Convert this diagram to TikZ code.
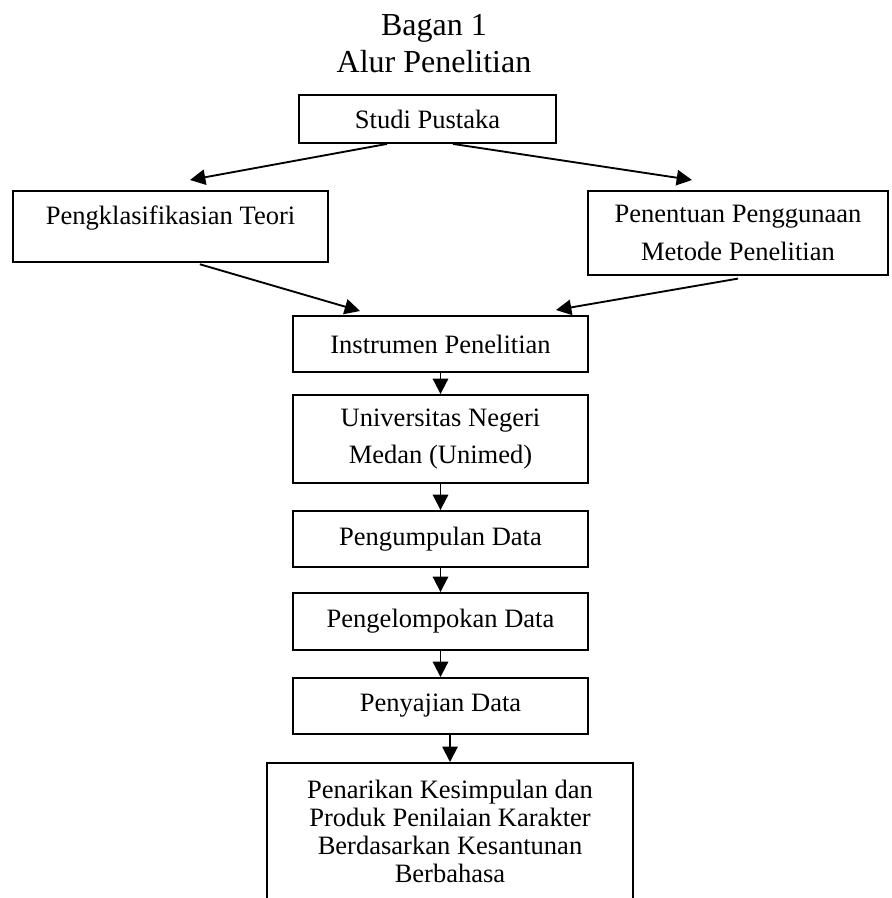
\documentclass[tikz,border=0pt]{standalone}
\usepackage{fontspec}
\setmainfont{Liberation Serif}
\usetikzlibrary{arrows.meta}

\begin{document}
\begin{tikzpicture}
[x=0.75pt,y=-0.75pt,
 kotak/.style={draw,line width=1.4pt,inner sep=0pt,align=center,
   font=\fontsize{19.9}{28}\selectfont},
 panah/.style={line width=1.4pt,-{Triangle[length=11.5pt,width=11.5pt]}}]
\clip (0,0) rectangle (891,898);
\node[align=center,inner sep=0pt,font=\fontsize{24}{27.75}\selectfont] (judul) at (434,44) {Bagan 1\\Alur Penelitian};
\node[kotak,minimum width=192.75pt,minimum height=36pt] (studi) at (427.5,119) {Studi Pustaka};
\node[kotak,minimum width=236.25pt,minimum height=53.25pt,text height=14pt,text depth=16.5pt] (teori) at (170.5,226.5) {Pengklasifikasian Teori};
\node[kotak,minimum width=225pt,minimum height=63pt] (metode) at (738,233) {Penentuan Penggunaan\\Metode Penelitian};
\node[kotak,minimum width=221.25pt,minimum height=42pt] (instrumen) at (440.5,344) {Instrumen Penelitian};
\node[kotak,minimum width=221.25pt,minimum height=66pt] (unimed) at (440.5,439) {Universitas Negeri\\Medan (Unimed)};
\node[kotak,minimum width=221.25pt,minimum height=42pt] (kumpul) at (440.5,539) {Pengumpulan Data};
\node[kotak,minimum width=221.25pt,minimum height=42.75pt] (kelompok) at (440.5,621.5) {Pengelompokan Data};
\node[kotak,minimum width=221.25pt,minimum height=42pt] (saji) at (440.5,706) {Penyajian Data};
\node[kotak,anchor=north,minimum width=274.5pt,inner ysep=13pt,font=\fontsize{19.9}{21}\selectfont] (simpul) at (450,762) {Penarikan Kesimpulan dan\\Produk Penilaian Karakter\\Berdasarkan Kesantunan\\Berbahasa};
% ujung panah yang bebas
\coordinate (kiri) at (190,180);
\coordinate (kanan) at (692,180);
\coordinate (masuk1) at (360,311);
\coordinate (masuk2) at (556,310);
\draw[panah] ([xshift=-30.4pt]studi.south) -- (kiri);
\draw[panah] ([xshift=19.1pt]studi.south) -- (kanan);
\draw[panah] ([xshift=22pt,yshift=-1pt]teori.south) -- (masuk1);
\draw[panah] ([yshift=-2pt]metode.south) -- (masuk2);
\foreach \from/\to in {instrumen/unimed,unimed/kumpul,kumpul/kelompok,kelompok/saji}
\draw[panah] (\from) -- (\to);
\draw[panah] (saji.south -| simpul.north) -- (simpul.north);
\end{tikzpicture}
\end{document}
